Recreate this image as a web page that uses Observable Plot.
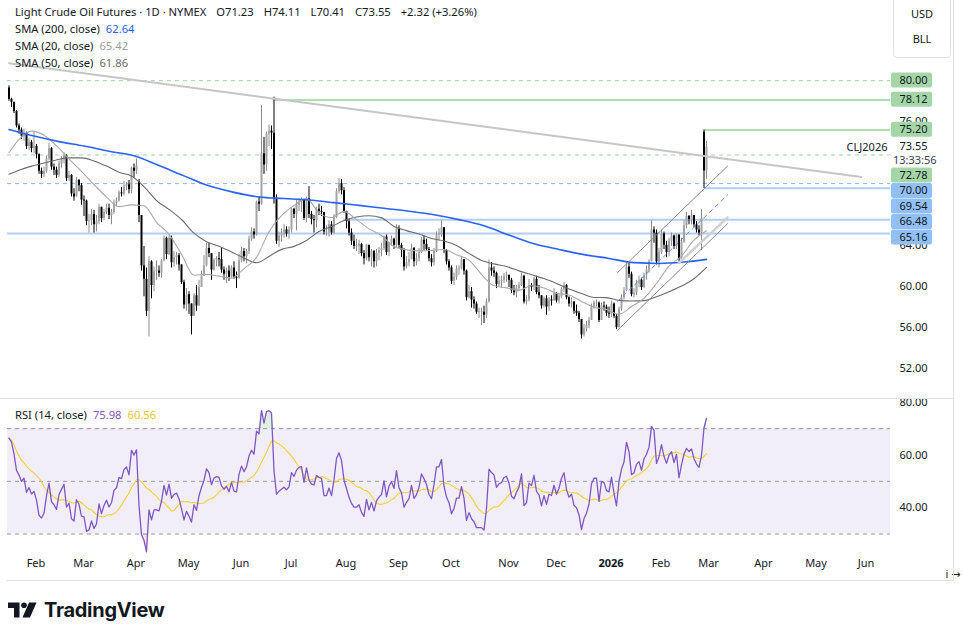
<!DOCTYPE html>
<html>
<head>
<meta charset="utf-8">
<script src="https://cdn.jsdelivr.net/npm/d3@7"></script>
<script src="https://cdn.jsdelivr.net/npm/@observablehq/plot@0.6"></script>
<style>
  html, body { margin: 0; padding: 0; background: #fff; overflow: hidden; }
  #wrap { position: relative; width: 963px; height: 640px; overflow: hidden; font-family: "Noto Sans", "DejaVu Sans", sans-serif; color: #131722; }
  #wrap svg { position: absolute; left: 0; }
  .txt { position: absolute; font-size: 11.2px; line-height: 17px; white-space: pre; color: #131722; }
  .sep { position: absolute; background: #e0e3eb; }
  #units { position: absolute; left: 893px; top: -4px; width: 58px; height: 62px; border: 1px solid #e0e3eb; border-radius: 4px; box-sizing: border-box; }
  #units div { position: absolute; left: 0; width: 56px; text-align: center; font-size: 11px; }
  #logo { position: absolute; left: 8px; top: 598px; display: flex; align-items: center; }
  #logo span { font-family: Inter, "Noto Sans", sans-serif; font-weight: 700; font-size: 20px; letter-spacing: -0.3px; margin-left: 6px; color: #131722; }
</style>
</head>
<body>
<div id="wrap"></div>
<script>
// ---------------- DATA ----------------
const firstSession = "2025-01-17";
const lastAxisDay = "2026-06-30";
const exchangeHolidays = ["2025-01-20","2025-02-17","2025-04-18","2025-05-26","2025-06-19","2025-07-04","2025-09-01","2025-11-27","2025-12-25","2026-01-01","2026-01-19","2026-02-16","2026-04-03","2026-05-25","2026-06-19"];

const closes = [
78.2,77.9,77.0,75.6,75.2,74.6,74.9,73.6,74.0,73.4,
73.6,72.8,71.2,70.9,71.2,72.4,73.4,71.6,71.3,70.8,
71.9,72.3,72.7,70.5,70.8,69.0,68.7,70.3,69.8,68.4,
68.3,66.3,66.4,67.0,66.0,66.3,67.7,66.6,67.2,67.6,
66.9,67.2,68.1,68.3,69.1,69.0,69.7,69.9,69.4,71.5,
71.2,71.7,66.9,62.0,60.7,57.6,62.4,60.1,61.5,61.5,
61.3,62.5,64.7,63.1,64.7,62.3,62.8,63.0,62.1,60.4,
58.2,59.2,58.3,57.1,59.1,58.1,59.9,61.0,62.0,63.7,
63.2,61.6,62.5,62.7,62.6,61.6,61.2,61.5,60.9,61.8,
60.9,60.8,62.5,63.4,62.9,63.4,64.6,65.3,65.0,68.2,
68.0,72.9,71.8,74.8,75.1,74.9,68.5,64.4,64.9,65.2,
65.5,65.1,65.5,67.5,67.0,67.9,68.3,68.4,66.6,68.5,
67.0,66.5,66.4,67.5,67.3,67.2,65.3,65.3,66.0,65.2,
66.7,69.2,70.0,69.3,67.3,66.3,65.2,64.4,63.9,63.9,
64.1,63.2,62.7,64.0,62.8,63.4,62.4,63.2,63.5,63.7,
64.8,63.3,64.2,64.6,64.0,65.6,64.0,63.5,61.9,62.3,
62.6,63.7,62.4,62.7,63.3,64.5,64.1,63.6,62.7,62.3,
63.4,65.0,65.0,65.7,63.5,62.4,61.8,60.5,60.9,61.7,
61.7,62.6,61.5,58.9,59.5,58.7,58.3,57.5,57.5,57.5,
57.2,58.5,61.8,61.5,61.3,60.2,60.5,60.6,61.0,61.1,
60.6,59.6,59.4,59.8,60.1,61.0,58.5,58.7,60.1,59.9,
60.7,59.4,59.1,58.1,58.8,58.0,58.7,58.6,59.3,58.6,
59.0,59.7,60.1,58.9,58.3,58.5,57.6,57.4,56.8,55.3,
55.9,56.2,56.7,58.0,58.4,58.4,56.7,58.1,58.0,57.4,
57.3,58.3,57.1,56.0,57.8,58.9,59.6,61.9,61.2,59.2,
59.4,60.3,60.6,59.9,61.1,61.6,62.4,65.5,65.2,62.4,
63.3,65.1,64.0,63.3,64.4,64.9,63.9,65.0,62.6,64.3,
65.9,66.8,66.5,66.9,66.0,65.5,65.2,66.6,71.23,73.55];

const highs = [
79.5,78.3,77.9,77.1,75.8,75.4,75.3,75.0,74.4,74.2,
75.0,73.8,72.9,71.5,71.6,72.7,73.9,73.5,71.9,71.6,
72.2,72.6,73.0,72.8,71.2,70.9,69.5,70.6,70.4,70.0,
68.8,68.4,67.0,67.5,67.4,66.9,68.0,67.6,67.5,68.0,
68.0,67.5,68.4,68.6,69.3,69.6,70.2,70.1,70.3,71.6,
71.9,72.4,70.4,66.9,63.9,61.8,62.9,62.5,61.9,62.5,
62.0,62.6,64.9,64.8,64.9,64.9,63.4,63.3,63.2,62.1,
60.6,59.8,59.5,57.6,59.3,60.1,60.6,61.5,63.0,64.2,
64.2,63.2,62.7,62.9,63.3,63.7,61.9,61.8,62.0,62.0,
62.4,61.4,63.1,63.8,63.7,63.6,64.9,65.7,65.6,68.3,
68.7,77.6,74.5,75.0,75.7,75.6,78.4,68.9,65.3,65.6,
66.0,65.8,65.8,67.6,67.6,68.4,68.5,68.6,68.5,68.7,
69.7,67.3,66.9,67.7,68.0,67.8,67.0,65.9,66.4,66.3,
67.0,69.5,70.5,70.4,69.6,67.3,66.5,65.6,65.0,64.6,
64.5,64.2,63.5,64.1,64.0,63.6,63.5,63.6,63.8,64.2,
64.9,65.0,64.3,64.9,64.7,66.0,65.9,64.2,63.7,62.9,
63.3,64.1,63.8,63.2,63.7,64.8,64.9,64.6,63.8,63.1,
63.7,65.3,65.6,66.4,65.7,63.6,62.6,62.0,61.3,62.0,
62.0,62.9,62.6,61.6,60.1,59.9,59.0,58.5,57.9,57.9,
58.1,58.8,62.6,62.3,61.9,61.4,61.0,61.0,61.3,61.4,
61.0,60.8,60.1,60.1,60.4,61.3,61.1,59.1,60.7,60.3,
60.9,61.0,60.1,59.1,59.0,59.1,58.9,59.1,59.8,59.4,
59.3,59.9,60.4,60.2,59.0,58.9,58.4,58.2,57.6,56.8,
56.3,56.6,57.0,58.3,58.6,58.7,58.5,58.4,58.5,58.2,
58.0,58.6,58.4,57.3,58.0,59.2,59.9,62.3,62.3,61.4,
59.8,60.6,61.0,60.8,61.3,62.0,62.6,66.4,65.8,65.5,
63.7,65.5,65.3,64.4,64.7,65.2,65.0,65.1,65.0,64.7,
66.4,67.2,66.9,67.4,66.9,66.3,65.9,67.5,75.20,74.11];

const lows = [
78.0,77.4,76.8,75.4,74.8,74.3,74.1,73.3,73.2,73.0,
72.9,72.4,70.9,70.5,70.6,71.0,72.2,71.3,70.8,70.5,
70.6,71.5,71.9,70.2,70.2,68.7,68.3,68.8,69.2,67.9,
66.8,65.9,65.2,65.9,65.2,65.3,66.0,66.2,66.4,67.0,
66.5,66.0,67.0,67.7,68.2,68.7,68.8,69.3,69.0,69.0,
70.6,70.9,66.2,61.5,59.0,57.1,55.1,58.8,59.5,60.6,
60.9,60.8,62.4,62.6,63.0,61.8,61.9,62.1,61.5,60.2,
57.8,57.6,57.3,55.3,57.2,57.6,58.3,59.9,61.0,61.9,
62.8,60.6,61.5,61.9,61.9,61.3,60.6,60.3,60.5,60.8,
60.7,59.8,60.7,62.3,62.4,62.2,63.1,64.4,64.6,64.9,
67.3,67.9,70.9,71.2,73.6,73.3,68.0,64.1,63.8,64.3,
64.7,64.8,64.6,65.2,66.6,65.4,67.3,67.2,66.4,66.2,
66.6,66.0,65.2,65.7,66.9,66.8,65.0,64.9,64.8,65.0,
65.1,66.6,69.0,68.9,67.1,65.6,64.9,64.0,63.6,63.4,
63.1,62.9,62.1,62.5,62.4,61.9,61.8,61.9,62.5,62.9,
63.5,63.0,62.9,63.9,63.6,63.8,63.7,62.8,61.5,61.7,
61.9,62.6,61.9,62.0,62.4,63.2,63.5,63.4,62.4,61.9,
62.0,63.3,64.4,64.8,63.2,62.1,61.5,60.2,60.1,60.6,
61.1,61.6,61.1,58.6,58.8,57.9,57.8,57.3,56.9,56.2,
56.4,56.9,58.4,61.0,60.9,59.8,59.9,59.8,60.3,60.4,
59.9,59.3,59.1,58.9,59.5,60.0,58.3,58.2,58.5,59.5,
59.6,59.2,58.8,57.8,57.9,57.2,57.6,58.1,58.6,58.4,
58.3,58.8,59.4,58.7,58.0,57.9,57.3,57.1,56.5,54.9,
55.1,55.6,55.9,56.8,57.8,58.0,56.5,56.7,57.6,57.1,
56.9,57.0,56.9,55.8,56.0,57.6,58.7,59.5,60.8,59.0,
58.9,59.1,59.9,59.6,59.8,60.6,61.3,62.4,64.2,62.1,
61.8,63.1,63.6,62.8,62.9,63.9,63.6,63.6,62.4,62.4,
64.2,65.6,66.0,66.0,65.7,65.2,64.9,63.5,69.54,70.41];

// sessions whose open is not the prior close: [session, open]
const openGaps = [[0, 79.3], [52, 70.2], [278, 75.0]];

const sma20 = [73.0,74.3,75.1,74.7,73.68,72.40,71.18,69.90,68.69,67.76,67.93,67.85,66.24,65.07,63.13,61.10,61.18,60.99,60.81,61.74,62.83,65.33,66.88,67.88,68.54,67.15,66.70,67.30,66.50,65.60,64.96,63.88,63.56,63.46,63.51,63.59,63.09,62.57,61.18,60.07,59.87,59.64,60.07,59.86,59.35,59.18,58.55,58.00,57.77,57.30,58.06,58.86,60.29,61.97,62.96,64.50,65.42];
const sma50 = [70.9,71.3,71.7,72.0,72.3,72.5,72.5,72.2,71.7,71.1,70.73,69.70,68.35,67.49,66.51,65.18,64.35,63.92,63.36,62.77,62.31,62.92,63.61,63.90,64.48,65.34,65.82,66.42,66.75,66.88,66.67,65.84,65.43,65.11,64.66,64.42,63.98,63.22,62.53,62.20,61.95,61.52,61.14,60.77,60.29,59.75,59.32,58.94,58.92,58.65,58.59,58.63,59.01,59.49,60.04,60.76,61.86];
// sampled at sessions 0,10,...,270,279
const sma200 = [75.26,74.62,74.08,73.65,73.15,72.70,71.75,70.75,69.78,69.15,68.70,68.55,68.40,68.15,67.88,67.60,67.32,66.98,66.50,65.90,65.00,64.15,63.60,63.10,62.73,62.32,62.24,62.38,62.64];

// RSI(14) Wilder state just before the first session
const rsiSeed = {prevClose: 78.9, avgGain: 0.70, avgLoss: 0.30};

// horizontal levels
const levels = [
  {price: 80.00, kind: "res", dashed: true,  fromSession: null},
  {price: 78.12, kind: "res", dashed: false, fromSession: 106},
  {price: 75.20, kind: "res", dashed: false, fromSession: 278},
  {price: 72.78, kind: "res", dashed: true,  fromSession: null},
  {price: 70.00, kind: "sup", dashed: true,  fromSession: null},
  {price: 69.54, kind: "sup", dashed: false, fromSession: 278},
  {price: 66.48, kind: "sup", dashed: false, fromSession: 134},
  {price: 65.16, kind: "sup", dashed: false, fromSession: null}
];
// drawings (session, price)
const downTrend = [{s: 0, p: 81.69}, {s: 341, p: 70.65}];
const channelLower = [{s: 243.4, p: 55.75}, {s: 287.4, p: 66.10}];
const channelUpper = [{s: 243.4, p: 61.35}, {s: 287.4, p: 71.70}];
const channelMid   = [{s: 243.4, p: 58.55}, {s: 287.4, p: 68.90}];
const supportLine  = [{s: 268.0, p: 62.30}, {s: 287.4, p: 66.70}];

const lastPrice = 73.55;
const symbol = "CLJ2026";
const countdown = "13:33:56";
const header = {
  title: "Light Crude Oil Futures · 1D · NYMEX",
  ohlc: ["O71.23", "H74.11", "L70.41", "C73.55", "+2.32 (+3.26%)"],
  sma: [["SMA (200, close)", "62.64"], ["SMA (20, close)", "65.42"], ["SMA (50, close)", "61.86"]],
  rsi: ["RSI (14, close)", "75.98", "60.56"]
};
const priceTicks = [52, 56, 60, 64, 76];
const rsiTicks = [40, 60, 80];
const monthNames = ["Jan","Feb","Mar","Apr","May","Jun","Jul","Aug","Sep","Oct","Nov","Dec"];

// ---------------- BUILD ----------------
const FONT = '"Noto Sans", "DejaVu Sans", sans-serif';
const INK = "#131722";
const hol = new Set(exchangeHolidays);
const sessions = [];
for (let d = new Date(firstSession + "T00:00:00Z"); d <= new Date(lastAxisDay + "T00:00:00Z"); d = new Date(d.getTime() + 86400000)) {
  const dow = d.getUTCDay(), s = d.toISOString().slice(0, 10);
  if (dow !== 0 && dow !== 6 && !hol.has(s)) sessions.push(s);
}
const xDomain = [-0.6, 352.6];
const gapMap = new Map(openGaps);
const candles = closes.map((c, i) => {
  const o = gapMap.has(i) ? gapMap.get(i) : closes[i - 1];
  const up = c >= o;
  return {i, date: sessions[i], open: o, close: c,
    high: Math.max(highs[i], o, c), low: Math.min(lows[i], o, c), up,
    b2: Math.abs(c - o) < 0.08 ? o + 0.08 : c};
});
const maBars = [0, ...d3.range(4, 280, 5)];
const ma20 = sma20.map((v, k) => ({s: maBars[k], v}));
const ma50 = sma50.map((v, k) => ({s: maBars[k], v}));
const ma200Bars = [...d3.range(0, 280, 10), 279];
const ma200 = sma200.map((v, k) => ({s: ma200Bars[k], v}));

// RSI
let ag = rsiSeed.avgGain, al = rsiSeed.avgLoss, prev = rsiSeed.prevClose;
const rsi = closes.map(c => {
  const ch = c - prev; prev = c;
  ag = (ag * 13 + Math.max(ch, 0)) / 14;
  al = (al * 13 + Math.max(-ch, 0)) / 14;
  return 100 - 100 / (1 + ag / al);
});
const rsiRows = rsi.map((r, i) => ({i, r, ma: d3.mean(rsi.slice(Math.max(0, i - 13), i + 1))}));

const monthTicks = [];
for (let i = 1; i < sessions.length && i <= xDomain[1]; i++) {
  if (sessions[i].slice(5, 7) !== sessions[i - 1].slice(5, 7)) monthTicks.push(i);
}
const tickLabel = i => {
  const m = +sessions[i].slice(5, 7) - 1;
  return m === 0 ? sessions[i].slice(0, 4) : monthNames[m];
};

const lvlStroke = {res: {solid: "#b2dcb3", dash: "#86cc8a"}, sup: {solid: "#b3cdf6", dash: "#6ea2f5"}};
const lvlX1 = d => d.fromSession ?? xDomain[0];
const line = (pts, opts) => Plot.line(pts, {x: "s", y: "p", ...opts});

const pricePlot = Plot.plot({
  width: 963, height: 398,
  marginLeft: 7, marginRight: 73, marginTop: 0, marginBottom: 0,
  x: {type: "linear", domain: xDomain, axis: null},
  y: {domain: [49.12, 87.79], axis: null},
  style: {fontFamily: FONT, fontSize: "11px", color: INK, background: "transparent"},
  marks: [
    Plot.ruleY(levels.filter(d => !d.dashed), {y: "price", x1: lvlX1, x2: () => xDomain[1],
      stroke: d => lvlStroke[d.kind].solid, strokeWidth: 2}),
    Plot.ruleY(levels.filter(d => d.dashed && d.kind === "res"), {y: "price", x1: lvlX1, x2: () => xDomain[1],
      stroke: lvlStroke.res.dash, strokeWidth: 1, strokeDasharray: "4,4", strokeOpacity: 0.8}),
    Plot.ruleY(levels.filter(d => d.dashed && d.kind === "sup"), {y: "price", x1: lvlX1, x2: () => xDomain[1],
      stroke: lvlStroke.sup.dash, strokeWidth: 1, strokeDasharray: "4,4", strokeOpacity: 0.8}),
    Plot.ruleX(candles, {x: "i", y1: "low", y2: "high", stroke: d => d.up ? "#8c8c8c" : "#000", strokeWidth: 1}),
    Plot.ruleX(candles, {x: "i", y1: "open", y2: "b2", stroke: d => d.up ? "#a3a3a3" : "#000", strokeWidth: 2, strokeLinecap: "butt"}),
    Plot.line(ma50, {x: "s", y: "v", stroke: "#6b6b6b", strokeWidth: 1.1, curve: "monotone-x"}),
    Plot.line(ma20, {x: "s", y: "v", stroke: "#a9a9a9", strokeWidth: 1.1, curve: "monotone-x"}),
    Plot.line(ma200, {x: "s", y: "v", stroke: "#2962ff", strokeWidth: 1.6, curve: "monotone-x"}),
    line(downTrend, {stroke: "#c6c6c6", strokeWidth: 2}),
    line(supportLine, {stroke: "#d0d0d0", strokeWidth: 2.5}),
    line(channelLower, {stroke: "#8a8a8a", strokeWidth: 1}),
    line(channelUpper, {stroke: "#8a8a8a", strokeWidth: 1}),
    line(channelMid, {stroke: "#5e8ef0", strokeWidth: 1, strokeDasharray: "4,4"}),
    Plot.text([symbol], {x: () => xDomain[1], y: () => lastPrice, text: d => d, textAnchor: "end", dx: -3, fill: INK, fontSize: 11}),
    Plot.axisY(priceTicks, {anchor: "right", tickSize: 0, tickPadding: 9, textAnchor: "start", tickFormat: d => d.toFixed(2), fontSize: 11, fill: INK})
  ]
});
pricePlot.style.top = "0px";

// right-hand price labels with collision avoidance
(function () {
  const ys = pricePlot.scale("y");
  const items = levels.map(d => ({...d, type: "box", y: ys.apply(d.price), h: 15.5}));
  items.push({type: "last", price: lastPrice, y: ys.apply(lastPrice), h: 28});
  items.sort((a, b) => a.y - b.y);
  let bottom = -Infinity;
  for (const it of items) {
    const want = it.type === "last" ? it.y - 7 : it.y - it.h / 2;
    it.top = Math.max(want, bottom);
    bottom = it.top + it.h;
  }
  const svg = d3.select(pricePlot);
  const g = svg.append("g").attr("font-family", FONT).attr("font-size", 11).attr("text-anchor", "start");
  for (const it of items) {
    if (it.type === "last") {
      g.append("rect").attr("x", 891).attr("y", it.top).attr("width", 60).attr("height", it.h).attr("fill", "#fff");
      g.append("text").attr("x", 899.5).attr("y", it.top + 6.5).attr("dy", "0.35em").attr("fill", INK).text(lastPrice.toFixed(2));
      g.append("text").attr("x", 893).attr("y", it.top + 20.5).attr("dy", "0.35em").attr("fill", "#3a3e4a").text(countdown);
    } else {
      g.append("rect").attr("x", 891).attr("y", it.top).attr("width", 41).attr("height", 15).attr("rx", 2)
        .attr("fill", it.kind === "res" ? "#a5d6a7" : "#90bff9");
      g.append("text").attr("x", 899.5).attr("y", it.top + 7.5).attr("dy", "0.35em").attr("fill", INK).text(it.price.toFixed(2));
    }
  }
})();

const rsiPlot = Plot.plot({
  width: 963, height: 181,
  marginLeft: 7, marginRight: 73, marginTop: 0, marginBottom: 35,
  x: {type: "linear", domain: xDomain, axis: null},
  y: {domain: [25.65, 81.06], axis: null},
  style: {fontFamily: FONT, fontSize: "11px", color: INK, background: "transparent"},
  marks: [
    Plot.rect([0], {x1: () => xDomain[0], x2: () => xDomain[1], y1: () => 30, y2: () => 70, fill: "#7e57c2", fillOpacity: 0.1}),
    Plot.ruleY([70, 50, 30], {x1: () => xDomain[0], x2: () => xDomain[1], stroke: "#9598a1", strokeDasharray: "4,4", strokeWidth: 1}),
    Plot.areaY(rsiRows, {x: "i", y1: () => 70, y2: d => Math.max(70, d.r), fill: "#4caf50", fillOpacity: 0.18}),
    Plot.areaY(rsiRows, {x: "i", y1: () => 30, y2: d => Math.min(30, d.r), fill: "#f23645", fillOpacity: 0.15}),
    Plot.line(rsiRows, {x: "i", y: "ma", stroke: "#f7cf3d", strokeWidth: 1.1}),
    Plot.line(rsiRows, {x: "i", y: "r", stroke: "#7e57c2", strokeWidth: 1.3}),
    Plot.axisY(rsiTicks, {anchor: "right", tickSize: 0, tickPadding: 9, textAnchor: "start", tickFormat: d => d.toFixed(2), fontSize: 11, fill: INK}),
    Plot.axisX(monthTicks, {anchor: "bottom", tickSize: 0, tickPadding: 14, tickFormat: tickLabel, fontSize: 11, fill: INK, dx: 2})
  ]
});
rsiPlot.style.top = "399px";
d3.select(rsiPlot).selectAll("text").filter(function () { return this.textContent === "2026"; }).attr("font-weight", "bold");

// ---------------- PAGE ----------------
const wrap = document.getElementById("wrap");
wrap.append(pricePlot, rsiPlot);
const add = (html, css) => { const el = document.createElement("div"); el.className = "txt"; el.innerHTML = html; Object.assign(el.style, css); wrap.append(el); return el; };
const sp = (t, c, ml) => `<span style="color:${c};margin-left:${ml}px">${t}</span>`;
add(header.title + header.ohlc.map(t => sp(t, INK, 10)).join(""), {left: "15px", top: "3px"});
const smaColors = ["#2962ff", "#a0a0a0", "#6b6b6b"];
header.sma.forEach((d, k) => add(d[0] + sp(d[1], smaColors[k], 6), {left: "15px", top: (20 + 17 * k) + "px"}));
add(header.rsi[0] + sp(header.rsi[1], "#7e57c2", 6) + sp(header.rsi[2], "#f4c430", 6), {left: "15px", top: "406px"});

const sep = (l, t, w, h) => { const el = document.createElement("div"); el.className = "sep"; Object.assign(el.style, {left: l + "px", top: t + "px", width: w + "px", height: h + "px"}); wrap.append(el); };
sep(0, 398, 953, 1);
sep(953, 0, 1, 580);
sep(6, 580, 948, 1);

const units = document.createElement("div");
units.id = "units";
units.innerHTML = '<div style="top:9px">USD</div><div style="top:34px">BLL</div>';
wrap.append(units);

const logo = document.createElement("div");
logo.id = "logo";
logo.innerHTML = '<svg width="30" height="18" viewBox="0 0 30 18" style="position:static"><path d="M0 1.5h11.5v15h-5.5v-9.5h-6z" fill="#131722"/><circle cx="16" cy="4.2" r="2.8" fill="#131722"/><path d="M21 1.5h7.5l-6.5 15h-7.5z" fill="#131722"/></svg><span>TradingView</span>';
wrap.append(logo);
</script>
</body>
</html>
